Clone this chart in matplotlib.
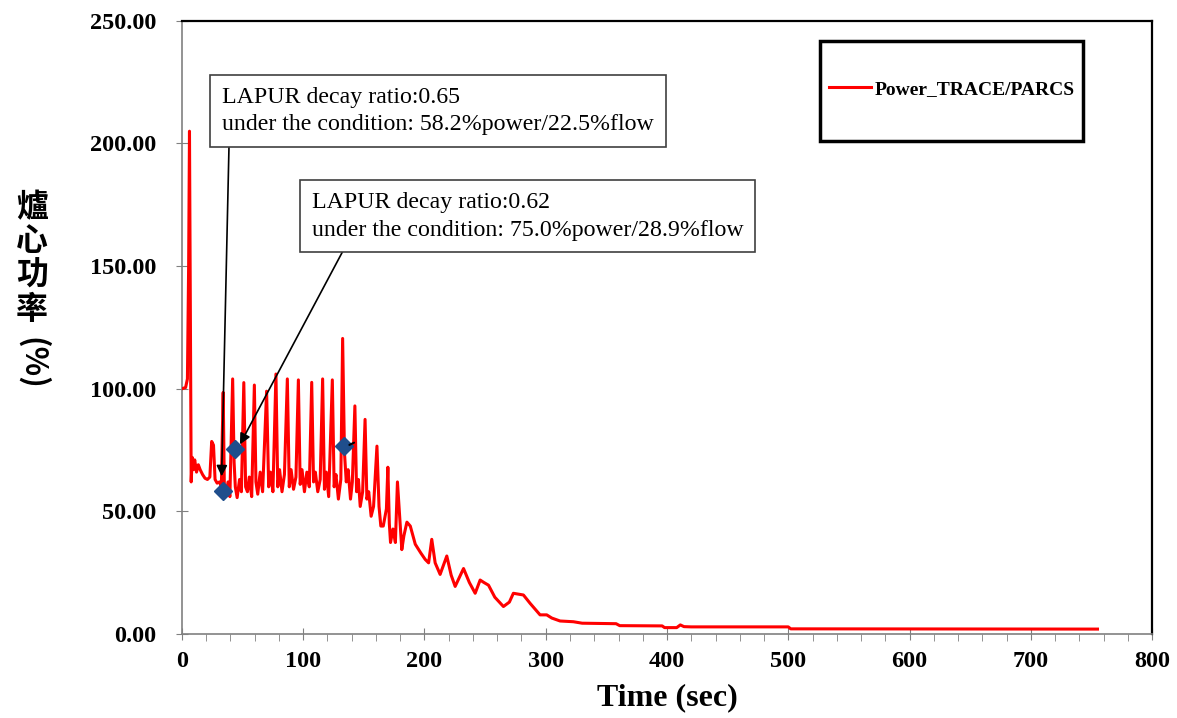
import numpy as np
import matplotlib
matplotlib.use("Agg")
import matplotlib.pyplot as plt
from matplotlib.patches import Rectangle
from matplotlib.ticker import MultipleLocator, FormatStrFormatter

# core power history (time in sec, power in %)
time_s = [0, 3, 4.5, 5.5, 6.2, 7.0, 7.6, 8.5, 9.5, 10.5, 12, 13.5, 15, 17, 19, 21, 23,
          24.5, 26, 27.3, 29, 31, 32.5, 33.2, 34, 35, 36.5, 38, 39.5, 41.8, 43, 44, 45.5,
          47.5, 49, 51, 52.5, 54, 55.5, 57.5, 59.7, 61, 62.5, 64.5, 66.5, 69.8, 71.5, 73,
          75, 77.5, 79, 80.5, 82.5, 84.5, 86.9, 88.5, 90, 92, 94, 96, 97.5, 99, 101, 103,
          105, 107, 108.5, 110, 112, 114, 116, 117.5, 119, 121, 124, 125.5, 127, 129, 131,
          132.5, 134, 135.5, 137, 139, 140.5, 142.6, 144, 145.5, 147, 149, 151, 152.5, 154,
          156, 158, 160.8, 162.5, 164, 166, 168.6, 169.8, 171, 172, 174, 176, 177.7, 180,
          181.3, 183, 185.5, 188.3, 192.4, 197, 200.6, 203.4, 206, 208.8, 212.9, 218.4,
          222, 225.3, 232.2, 237, 241.8, 245.9, 249, 252.8, 258, 265.1, 270, 273.3, 281.6,
          287.1, 295.3, 300.8, 305, 311.8, 322.8, 330, 358, 361, 396, 398, 408, 411, 414,
          420, 500, 502, 755]
power = [100, 100.5, 104, 150, 205, 120, 62, 72, 67, 71, 66, 69, 67, 65, 63.5, 63, 64,
         78.5, 77, 63, 61.5, 62, 60, 80, 98.5, 58, 57.5, 62, 56, 104, 70, 60, 55.6,
         63, 58, 102.5, 60, 58, 64, 56, 101.5, 62, 57, 66, 58, 99, 60, 66,
         58, 106, 60, 67, 58, 65, 104, 60, 67, 59, 64, 103.6, 61, 67, 58, 66,
         60, 102.6, 62, 66, 58, 63, 104, 59, 66, 56, 103.6, 60, 65, 55, 63,
         120.5, 74, 62, 67, 55, 62, 93, 58, 63, 52, 58, 87.5, 55, 58,
         48, 52, 76.6, 52, 44, 44, 51, 68, 45, 37.3, 42.8, 37.3, 62, 44,
         34.4, 40, 45.6, 44, 36.6, 33, 30.4, 29, 38.6, 29, 24.3, 31.8,
         24, 19.4, 26.7, 21, 16.6, 22, 21, 19.9, 15, 11.2, 13, 16.6, 15.9,
         12.5, 7.8, 7.8, 6.5, 5.3, 5.0, 4.4, 4.2, 3.4, 3.3, 2.6, 2.6, 3.7, 3.0,
         2.9, 2.9, 2.1, 2.0]

# LAPUR evaluation points
marker_t = [34, 43.7, 133.6]
marker_p = [58.2, 75.3, 76.6]

note1 = "LAPUR decay ratio:0.65\nunder the condition: 58.2%power/22.5%flow"
note2 = "LAPUR decay ratio:0.62\nunder the condition: 75.0%power/28.9%flow"

fig = plt.figure(figsize=(11.77, 7.18), dpi=100)
ax = fig.add_axes([0.1546, 0.117, 0.8242, 0.854])

ax.plot(time_s, power, color="#ff0000", lw=2.2, label="Power_TRACE/PARCS", zorder=3)
ax.plot(marker_t, marker_p, ls="none", marker="D", ms=9, color="#1f4e8c", zorder=4)

ax.set_xlim(0, 800)
ax.set_ylim(0, 250)
ax.xaxis.set_major_locator(MultipleLocator(100))
ax.xaxis.set_minor_locator(MultipleLocator(20))
ax.yaxis.set_major_locator(MultipleLocator(50))
ax.yaxis.set_major_formatter(FormatStrFormatter("%.2f"))

tick_font = {"family": "Liberation Serif", "weight": "bold", "size": 17.5}
for lab in ax.get_xticklabels() + ax.get_yticklabels():
    lab.set_fontproperties(tick_font)
ax.tick_params(axis="x", which="major", direction="inout", length=9, color="#808080", pad=8)
ax.tick_params(axis="x", which="minor", direction="out", length=5, color="#808080")
ax.tick_params(axis="y", which="major", direction="inout", length=9, color="#808080", pad=14)

for s in ["left", "bottom"]:
    ax.spines[s].set_color("#808080")
    ax.spines[s].set_linewidth(1.2)
for s in ["top", "right"]:
    ax.spines[s].set_color("black")
    ax.spines[s].set_linewidth(1.6)

ax.set_xlabel("Time (sec)", fontfamily="Liberation Serif", fontweight="bold",
              fontsize=23, labelpad=8)

# vertical Chinese y label
for i, ch in enumerate("爐心功率"):
    fig.text(0.027, (718 - 208 - 34 * i) / 718, ch, ha="center", va="center",
             fontfamily="Noto Sans CJK TC", fontweight="heavy", fontsize=23)
fig.text(0.027, (718 - 363) / 718, "(%)", ha="center", va="center", rotation=270,
         fontfamily="Noto Sans CJK TC", fontweight="heavy", fontsize=22)

# annotation boxes
box_style = dict(boxstyle="square,pad=0.5", fc="white", ec="#404040", lw=1.2)
ax.text(33, 213.3, note1, ha="left", va="center", fontfamily="Liberation Serif",
        fontsize=17.2, linespacing=1.4, bbox=box_style, zorder=5)
ax.text(107, 170.3, note2, ha="left", va="center", fontfamily="Liberation Serif",
        fontsize=17.2, linespacing=1.4, bbox=box_style, zorder=5)

arrow = dict(arrowstyle="-|>", color="black", lw=1.2, mutation_scale=16, shrinkA=0, shrinkB=0)
ax.annotate("", xy=(32.7, 64.3), xytext=(38.8, 199.2), arrowprops=arrow, zorder=4)
ax.annotate("", xy=(47.8, 77.3), xytext=(133, 156.4), arrowprops=arrow, zorder=4)
ax.annotate("", xy=(136, 76.6), xytext=(144, 78.5),
            arrowprops=dict(arrowstyle="-", color="black", lw=1.5), zorder=4)

# legend with a heavy frame
ax.add_patch(Rectangle((0.6577, 0.8046), 0.2712, 0.1628, transform=ax.transAxes,
                       fill=False, ec="black", lw=2.5, zorder=6))
ax.legend(loc="center", bbox_to_anchor=(0.7933, 0.889), frameon=False,
          handlelength=2.2, handletextpad=0.15,
          prop={"family": "Liberation Serif", "weight": "bold", "size": 14})

fig.savefig("out.png", dpi=100)
